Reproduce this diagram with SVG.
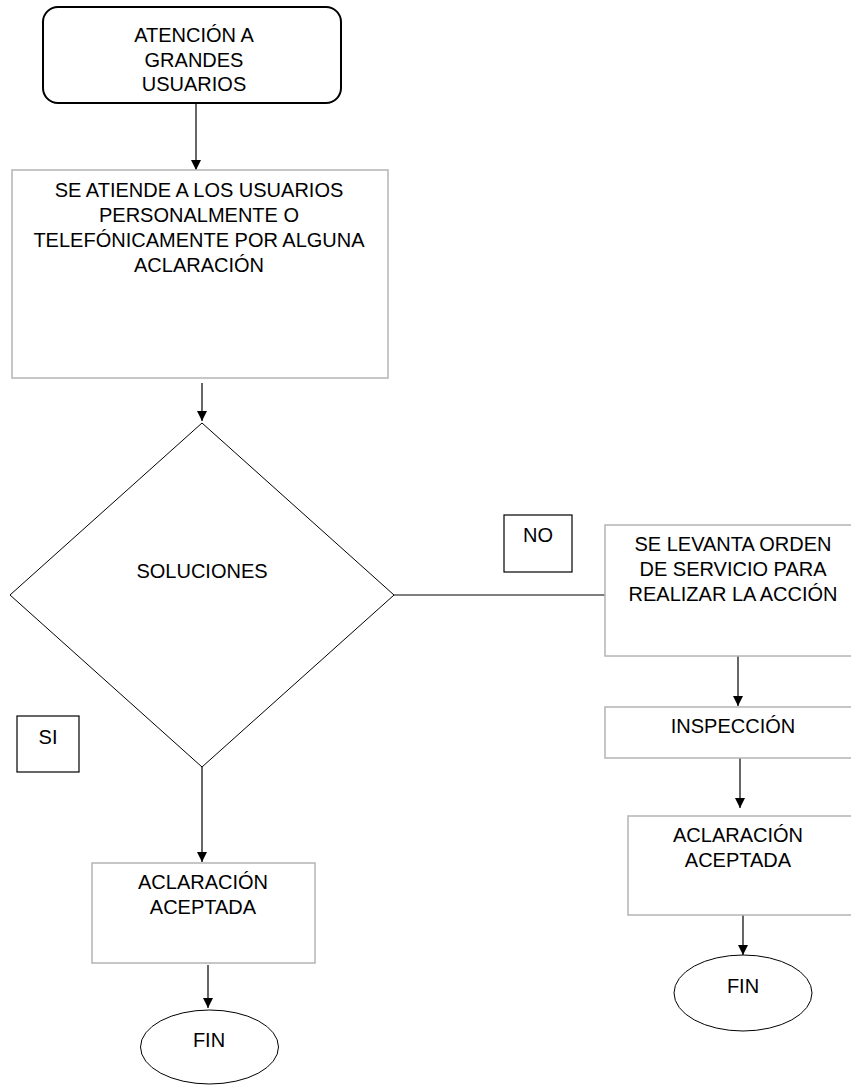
<svg xmlns="http://www.w3.org/2000/svg" width="851" height="1085" viewBox="0 0 851 1085">
<defs>
<style>
text{font-family:"Liberation Sans",Arial,sans-serif;font-size:20px;fill:#000;text-anchor:middle}
.proc{fill:#fff;stroke:#b4b4b4;stroke-width:1.5}
.lbl{fill:#fff;stroke:#000;stroke-width:1.2}
.shape{fill:#fff;stroke:#000;stroke-width:1}
.conn{fill:none;stroke:#000;stroke-width:1.2}
</style>
<marker id="arr" markerWidth="12" markerHeight="12" refX="10" refY="5" orient="auto" markerUnits="userSpaceOnUse">
<path d="M0,0 L10,5 L0,10 Z" fill="#000"/>
</marker>
</defs>
<rect width="851" height="1085" fill="#fff"/>
<g id="connectors">
<line class="conn" x1="196" y1="103" x2="196" y2="170" marker-end="url(#arr)"/>
<line class="conn" x1="202" y1="383" x2="202" y2="421" marker-end="url(#arr)"/>
<line class="conn" x1="394" y1="595" x2="605" y2="595"/>
<line class="conn" x1="202" y1="767" x2="202" y2="862" marker-end="url(#arr)"/>
<line class="conn" x1="208" y1="965" x2="208" y2="1008" marker-end="url(#arr)"/>
<line class="conn" x1="738" y1="656" x2="738" y2="706" marker-end="url(#arr)"/>
<line class="conn" x1="740" y1="758" x2="740" y2="808" marker-end="url(#arr)"/>
<line class="conn" x1="743" y1="913" x2="743" y2="955" marker-end="url(#arr)"/>
</g>
<g id="start">
<rect x="43" y="7" width="298" height="96" rx="15" ry="15" fill="#fff" stroke="#000" stroke-width="2"/>
<text x="194" y="42">ATENCIÓN A</text>
<text x="194" y="67">GRANDES</text>
<text x="194" y="91">USUARIOS</text>
</g>
<g id="atiende">
<rect class="proc" x="12" y="170" width="376" height="208"/>
<text x="199" y="197">SE ATIENDE A LOS USUARIOS</text>
<text x="199" y="222">PERSONALMENTE O</text>
<text x="199" y="247">TELEFÓNICAMENTE POR ALGUNA</text>
<text x="199" y="272">ACLARACIÓN</text>
</g>
<g id="decision">
<polygon class="shape" points="202,423 394,595 202,767 10,595"/>
<text x="202" y="578">SOLUCIONES</text>
</g>
<g id="no-label">
<rect class="lbl" x="504" y="515" width="68" height="57"/>
<text x="538" y="542">NO</text>
</g>
<g id="si-label">
<rect class="lbl" x="17" y="716" width="62" height="56"/>
<text x="48" y="744">SI</text>
</g>
<g id="orden">
<rect class="proc" x="605" y="525" width="260" height="131"/>
<text x="733" y="551">SE LEVANTA ORDEN</text>
<text x="733" y="576">DE SERVICIO PARA</text>
<text x="733" y="601">REALIZAR LA ACCIÓN</text>
</g>
<g id="inspeccion">
<rect class="proc" x="605" y="707" width="260" height="51"/>
<text x="733" y="733">INSPECCIÓN</text>
</g>
<g id="aceptada-right">
<rect class="proc" x="628" y="816" width="235" height="99"/>
<text x="738" y="842">ACLARACIÓN</text>
<text x="738" y="867">ACEPTADA</text>
</g>
<g id="fin-right">
<ellipse class="shape" cx="743" cy="993" rx="69" ry="38"/>
<text x="743" y="993">FIN</text>
</g>
<g id="aceptada-left">
<rect class="proc" x="92" y="863" width="223" height="100"/>
<text x="203" y="889">ACLARACIÓN</text>
<text x="203" y="914">ACEPTADA</text>
</g>
<g id="fin-left">
<ellipse class="shape" cx="209.5" cy="1047" rx="69" ry="37"/>
<text x="209" y="1047">FIN</text>
</g>
</svg>
